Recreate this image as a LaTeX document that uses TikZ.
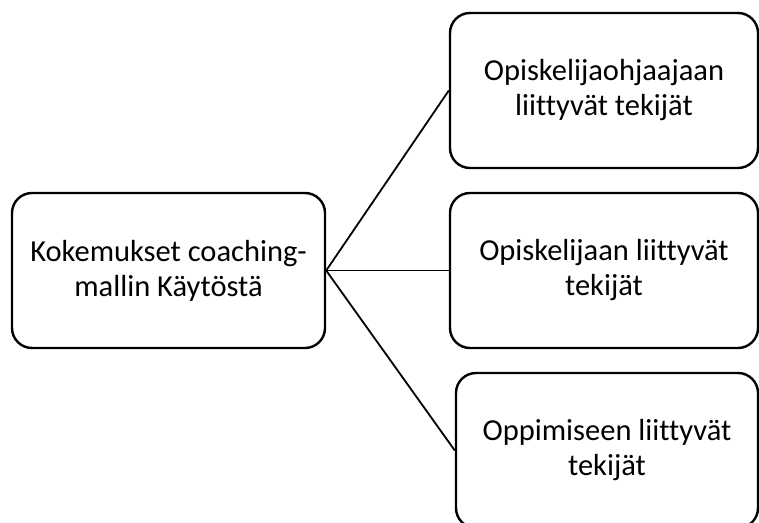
\documentclass[tikz,border=0pt]{standalone}
\usepackage{fontspec}
\setmainfont[Ligatures=NoCommon]{Carlito}
\begin{document}
\begin{tikzpicture}[x=1pt,y=-1pt,
  box/.style={draw=black, line width=2.4pt, rounded corners=20pt, align=center,
    font=\fontsize{30.5}{35}\selectfont, inner sep=0pt},
  conn/.style={draw=black, line width=1.8pt}]
\useasboundingbox (0,0) rectangle (759,522);
\node[box, minimum width=313pt, minimum height=155pt] (src) at (168.5,270.5) {Kokemukset coaching-\\mallin Käytöstä};
\node[box, minimum width=308pt, minimum height=155pt] (top) at (604,90.5) {Opiskelijaohjaajaan\\liittyvät tekijät};
\node[box, minimum width=308pt, minimum height=155pt] (mid) at (604,270.5) {Opiskelijaan liittyvät\\tekijät};
\node[box, minimum width=302pt, minimum height=155pt] (bot) at (607,450.5) {Oppimiseen liittyvät\\tekijät};
\draw[conn] (src.east) -- (top.west);
\draw[conn] (src.east) -- (mid.west);
\draw[conn] (src.east) -- (bot.west);
\end{tikzpicture}
\end{document}
